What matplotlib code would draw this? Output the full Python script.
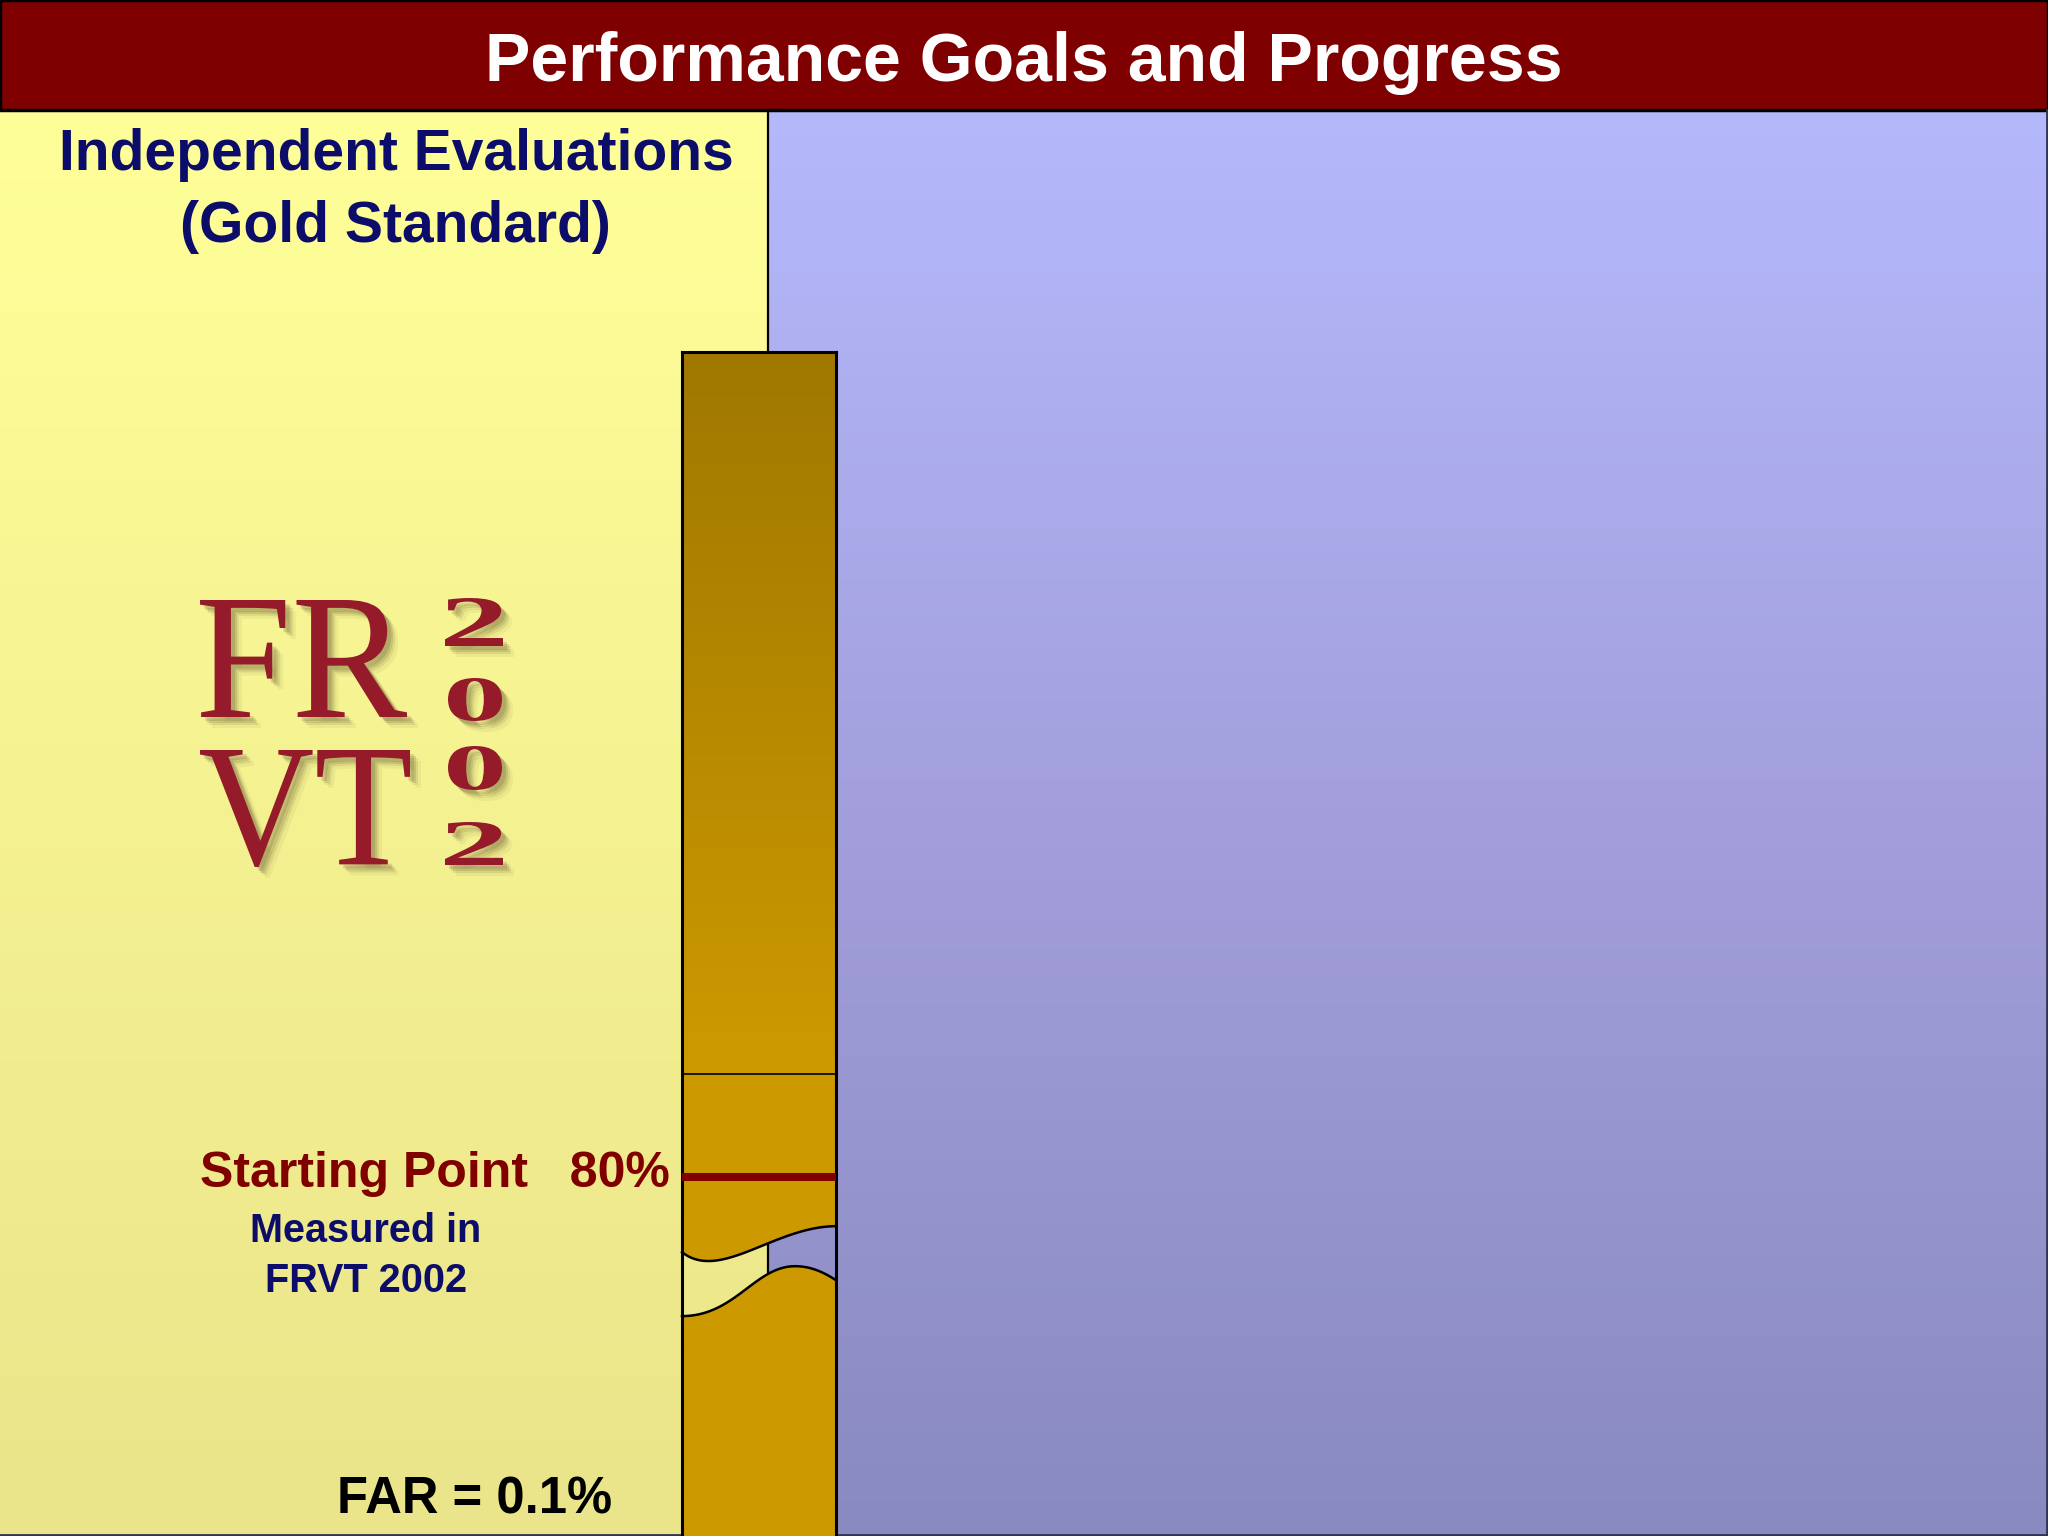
import matplotlib
matplotlib.use("Agg")
import matplotlib.pyplot as plt
import numpy as np
from matplotlib.path import Path
from matplotlib.patches import PathPatch, Rectangle, Polygon
from matplotlib.textpath import TextPath
from matplotlib.font_manager import FontProperties

# --- textos ---
title = "Performance Goals and Progress"
panel_title = ["Independent Evaluations", "(Gold Standard)"]
logo_letters = ["FR", "VT"]
logo_digits = ["2", "0", "0", "2"]
start_label = "Starting Point   80%"
start_note = ["Measured in", "FRVT 2002"]
far_label = "FAR = 0.1%"

# --- barra (tasa de verificación, %) ---
bar_top = 100.0
axis_floor = 71.3
start_point = 80.0
segment_mark = 82.5

# corte del eje (x: fracción del ancho de la barra, y: %)
break_upper = [(0.0, 78.18), (0.247, 77.45), (0.604, 78.81), (1.0, 78.81)]
break_lower = [(0.0, 76.63), (0.344, 76.63), (0.474, 77.84), (0.734, 77.84),
               (0.844, 77.84), (0.929, 77.67), (1.0, 77.50)]

W, H = 2048, 1536
SANS = "Liberation Sans"
NAVY = "#0c0c6a"
MAROON = "#800000"


def vgrad(ax, extent, ys, colors, n=400, **kw):
    # degradado vertical
    x0, x1, yb, yt = extent
    yy = np.linspace(yt, yb, n)
    cols = np.array(colors, dtype=float) / 255.0
    img = np.stack([np.interp(yy, ys, cols[:, i]) for i in range(3)], axis=-1)
    return ax.imshow(img[:, None, :], extent=extent, aspect="auto",
                     interpolation="bilinear", origin="upper", **kw)


def bezier(pts, n=40):
    out = []
    for i in range(0, len(pts) - 1, 3):
        p0, p1, p2, p3 = [np.array(p) for p in pts[i:i + 4]]
        t = np.linspace(0, 1, n)[:, None]
        seg = ((1 - t) ** 3) * p0 + 3 * ((1 - t) ** 2) * t * p1 + 3 * (1 - t) * t ** 2 * p2 + t ** 3 * p3
        out.append(seg if i == 0 else seg[1:])
    return np.vstack(out)


def glyphs(ax, s, box, color, weight="normal"):
    x0, y0, x1, y1 = box
    tp = TextPath((0, 0), s, size=100,
                  prop=FontProperties(family="Liberation Serif", weight=weight))
    v = tp.vertices.copy()
    ext = tp.get_extents()
    v[:, 0] = x0 + (v[:, 0] - ext.x0) / ext.width * (x1 - x0)
    v[:, 1] = y1 - (v[:, 1] - ext.y0) / ext.height * (y1 - y0)
    for k, a in [(11, 0.06), (8, 0.10), (6, 0.14), (4, 0.16)]:
        ax.add_patch(PathPatch(Path(v + [k, k], tp.codes), fc="#4a3a20", ec="none", alpha=a))
    ax.add_patch(PathPatch(Path(v, tp.codes), fc=color, ec="none"))


fig = plt.figure(figsize=(W / 100, H / 100), dpi=100)
ax = fig.add_axes([0, 0, 1, 1])
ax.set_xlim(0, W)
ax.set_ylim(H, 0)
ax.axis("off")

# --- fondos ---
vgrad(ax, [0, 768, H, 110], [110, H], [(255, 255, 153), (234, 228, 138)], zorder=0)
vgrad(ax, [768, W, H, 110], [110, 780, H],
      [(180, 185, 252), (164, 160, 222), (137, 138, 191)], zorder=0)
ax.add_patch(Rectangle((0, 0), W, 110, fc="#7f0000", ec="black", lw=2.5, zorder=1))
ax.plot([768, 768], [110, H], color="black", lw=1.6, zorder=1)
ax.plot([0, W - 1, W - 1], [H - 1, H - 1, 110], color="#333355", lw=2, zorder=1)

ax.text(1024, 81, title, ha="center", va="baseline", color="white",
        fontsize=49, fontweight="bold", family=SANS, zorder=3)

ax.text(396, 170, panel_title[0], ha="center", va="baseline", color=NAVY,
        fontsize=41, fontweight="bold", family=SANS)
ax.text(395, 242, panel_title[1], ha="center", va="baseline", color=NAVY,
        fontsize=41, fontweight="bold", family=SANS)

# --- logo FRVT 2002 ---
logo_red = "#951b2b"
glyphs(ax, logo_letters[0], (200, 600, 407, 717), logo_red)
glyphs(ax, logo_letters[1], (200, 750, 410, 867), logo_red)
digit_boxes = [(445, 598, 503, 646), (448, 678, 502, 721),
               (448, 746, 502, 790), (445, 822, 503, 865)]
for d, b in zip(logo_digits, digit_boxes):
    glyphs(ax, d, b, logo_red, weight="bold")

# --- textos inferiores ---
ax.text(200, 1187, start_label, ha="left", va="baseline", color=MAROON,
        fontsize=36, fontweight="bold", family=SANS)
ax.text(366, 1242, start_note[0], ha="center", va="baseline", color=NAVY,
        fontsize=28.5, fontweight="bold", family=SANS)
ax.text(366, 1292, start_note[1], ha="center", va="baseline", color=NAVY,
        fontsize=28.5, fontweight="bold", family=SANS)
ax.text(337, 1514, far_label, ha="left", va="baseline", color="black",
        fontsize=36.5, fontweight="bold", family=SANS)

# --- barra con su propia escala en % ---
bax = fig.add_axes([682 / W, 0, 154 / W, (H - 352) / H])
bax.set_xlim(0, 1)
bax.set_ylim(axis_floor, bar_top)
bax.axis("off")

up = bezier(break_upper)
lo = bezier(break_lower)
upper_piece = np.vstack([[[0, bar_top]], up, [[1, bar_top]]])
lower_piece = np.vstack([lo, [[1, axis_floor], [0, axis_floor]]])

bar_stops = [bar_top, 83.0, axis_floor]
bar_cols = [(160, 120, 0), (204, 153, 0), (204, 153, 0)]
for piece in (upper_piece, lower_piece):
    poly = Polygon(piece, closed=True, fc="none", ec="none")
    bax.add_patch(poly)
    im = vgrad(bax, [0, 1, axis_floor, bar_top], bar_stops[::-1], bar_cols[::-1], zorder=1)
    im.set_clip_path(poly)
    bax.set_xlim(0, 1)
    bax.set_ylim(axis_floor, bar_top)

bax.plot(up[:, 0], up[:, 1], color="black", lw=1.8, zorder=3, clip_on=False)
bax.plot(lo[:, 0], lo[:, 1], color="black", lw=1.8, zorder=3, clip_on=False)
bax.plot([0, 1], [bar_top, bar_top], color="black", lw=2.2, zorder=3, clip_on=False)
bax.plot([0, 0], [axis_floor, bar_top], color="black", lw=2.2, zorder=3, clip_on=False)
bax.plot([1, 1], [axis_floor, bar_top], color="black", lw=2.2, zorder=3, clip_on=False)
bax.plot([0, 1], [segment_mark, segment_mark], color="black", lw=1.2, zorder=3)
bax.plot([0, 1], [start_point, start_point], color=MAROON, lw=5.8, zorder=3,
         solid_capstyle="butt")

fig.savefig("out.png", dpi=100)
